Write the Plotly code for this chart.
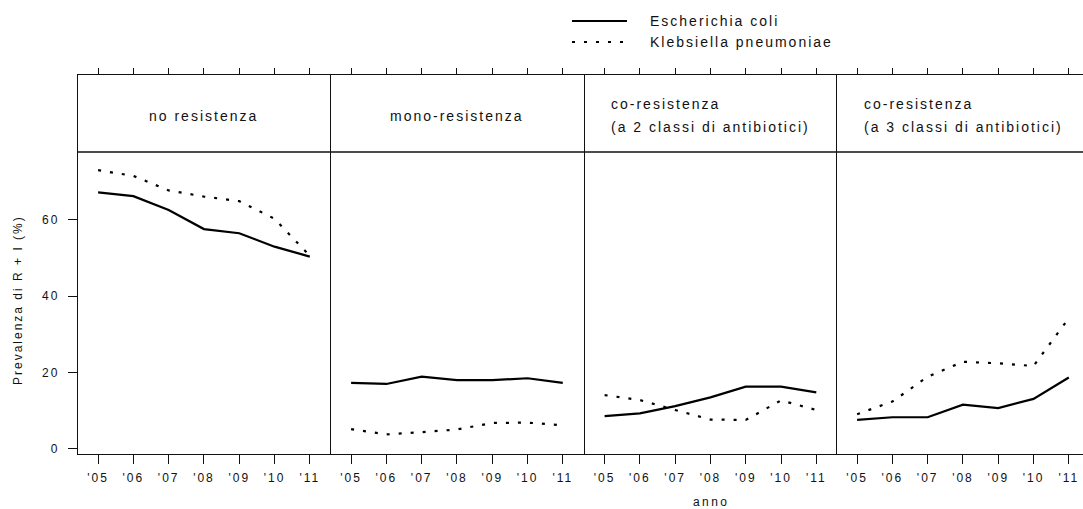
import plotly.graph_objects as go

# ---------------- data ----------------
years = [5, 6, 7, 8, 9, 10, 11]
year_labels = ["'05", "'06", "'07", "'08", "'09", "'10", "'11"]
y_ticks = [0, 20, 40, 60]

series_names = ["Escherichia coli", "Klebsiella pneumoniae"]

ecoli_no_res = [67.1, 66.1, 62.5, 57.5, 56.4, 52.9, 50.3]
kleb_no_res = [72.9, 71.4, 67.6, 66.0, 64.8, 60.2, 50.5]

ecoli_mono = [17.3, 17.0, 18.9, 18.0, 18.0, 18.5, 17.3]
kleb_mono = [5.2, 3.8, 4.4, 5.1, 6.8, 6.9, 6.2]

ecoli_co2 = [8.6, 9.3, 11.2, 13.5, 16.3, 16.3, 14.8]
kleb_co2 = [14.1, 12.8, 10.2, 7.7, 7.6, 12.7, 10.2]

ecoli_co3 = [7.6, 8.3, 8.3, 11.6, 10.7, 13.1, 18.7]
kleb_co3 = [9.1, 12.4, 18.9, 22.8, 22.4, 21.7, 34.2]

panel_titles = [
    ["no resistenza"],
    ["mono-resistenza"],
    ["co-resistenza", "(a 2 classi di antibiotici)"],
    ["co-resistenza", "(a 3 classi di antibiotici)"],
]
ecoli_all = [ecoli_no_res, ecoli_mono, ecoli_co2, ecoli_co3]
kleb_all = [kleb_no_res, kleb_mono, kleb_co2, kleb_co3]

# ---------------- layout geometry (pixels) ----------------
W, H = 1083, 509
L, R, T, B = 78, 0, 75, 55
PW = W - L - R
PH = H - T - B
FONT = "Liberation Sans, Arial, sans-serif"
INK = "#111111"
LW = 1.4


def px_x(px):
    return (px - L) / PW


def px_y(py):
    return (H - B - py) / PH


def sp(text, ls):
    return f'<span style="letter-spacing:{ls}px">{text}</span>'


panel_edges = [78, 331, 584.5, 837, 1083]
per_year = 35.28
x0 = 4.43
y_range = [-1.31, 97.78]
strip_y = px_y(152)

fig = go.Figure()

for i in range(4):
    xa = "x" if i == 0 else f"x{i+1}"
    ya = "y" if i == 0 else f"y{i+1}"
    fig.add_trace(go.Scatter(
        x=years, y=ecoli_all[i], mode="lines", xaxis=xa, yaxis=ya,
        line=dict(color="black", width=2.2), name=series_names[0],
        showlegend=False, hoverinfo="skip"))
    fig.add_trace(go.Scatter(
        x=years, y=kleb_all[i], mode="lines", xaxis=xa, yaxis=ya,
        line=dict(color="black", width=2.2, dash="3px,9px"), name=series_names[1],
        showlegend=False, hoverinfo="skip"))
    # empty trace registering the top-tick axis
    fig.add_trace(go.Scatter(x=[], y=[], xaxis=f"x{i+5}", yaxis=ya,
                             showlegend=False, hoverinfo="skip"))

layout = dict(
    width=W, height=H,
    margin=dict(l=L, r=R, t=T, b=B, autoexpand=False),
    paper_bgcolor="white", plot_bgcolor="white",
    font=dict(family=FONT, size=12, color=INK),
    showlegend=False,
)

for i in range(4):
    left, right = panel_edges[i], panel_edges[i + 1]
    xr = [x0, x0 + (right - left) / per_year]
    dom = [px_x(left), min(1.0, px_x(right))]
    xk = "xaxis" if i == 0 else f"xaxis{i+1}"
    yk = "yaxis" if i == 0 else f"yaxis{i+1}"
    ya = "y" if i == 0 else f"y{i+1}"
    xa = "x" if i == 0 else f"x{i+1}"
    layout[xk] = dict(
        domain=dom, range=xr, anchor=ya,
        tickmode="array", tickvals=years,
        ticktext=[sp(t, 2) for t in year_labels],
        ticks="outside", ticklen=9, tickwidth=LW, tickcolor=INK,
        ticklabelstandoff=3,
        showline=True, linecolor=INK, linewidth=LW, mirror=True,
        showgrid=False, zeroline=False,
        tickfont=dict(family=FONT, size=12, color=INK),
    )
    layout[f"xaxis{i+5}"] = dict(
        domain=dom, range=xr, anchor=ya, overlaying=xa, side="top",
        tickmode="array", tickvals=years,
        ticks="outside", ticklen=6, tickwidth=LW, tickcolor=INK,
        showticklabels=False, showline=False,
        showgrid=False, zeroline=False,
    )
    yd = dict(
        domain=[0, 1], range=y_range, anchor=xa,
        showline=True, linecolor=INK, linewidth=LW, mirror=False,
        showgrid=False, zeroline=False,
    )
    if i == 0:
        yd.update(tickmode="array", tickvals=y_ticks,
                  ticktext=[sp(str(v), 2) for v in y_ticks],
                  ticks="outside", ticklen=9, tickwidth=LW, tickcolor=INK,
                  ticklabelstandoff=6,
                  tickfont=dict(family=FONT, size=12, color=INK))
    else:
        yd.update(showticklabels=False, ticks="")
    layout[yk] = yd

fig.update_layout(**layout)

# strip separator line
fig.add_shape(type="line", xref="paper", yref="paper", x0=0, x1=1,
              y0=strip_y, y1=strip_y, line=dict(color=INK, width=LW))

# strip titles
for i, lines in enumerate(panel_titles):
    xa = "x" if i == 0 else f"x{i+1}"
    if len(lines) == 1:
        fig.add_annotation(x=8, xref=xa, y=px_y(116), yref="paper",
                           text=sp(lines[0], 2), showarrow=False,
                           xanchor="center", yanchor="middle",
                           font=dict(family=FONT, size=14, color=INK))
    else:
        for j, (t, py) in enumerate(zip(lines, [104, 127])):
            fig.add_annotation(x=5.13, xref=xa, y=px_y(py), yref="paper",
                               text=sp(t, 2), showarrow=False,
                               xanchor="left", yanchor="middle",
                               font=dict(family=FONT, size=14, color=INK))

# axis titles
fig.add_annotation(x=px_x(711), xref="paper", y=px_y(502), yref="paper",
                   text=sp("anno", 2.4), showarrow=False,
                   xanchor="center", yanchor="middle",
                   font=dict(family=FONT, size=12, color=INK))
fig.add_annotation(x=px_x(18), xref="paper", y=px_y(300), yref="paper",
                   text=sp("Prevalenza di R + I (%)", 2), showarrow=False,
                   textangle=-90, xanchor="center", yanchor="middle",
                   font=dict(family=FONT, size=12, color=INK))

# key (legend)
for name, dash, py in [(series_names[0], "solid", 21), (series_names[1], "3px,9px", 42)]:
    fig.add_shape(type="line", xref="paper", yref="paper",
                  x0=px_x(572), x1=px_x(627), y0=px_y(py), y1=px_y(py),
                  line=dict(color="black", width=2.2, dash=dash))
    fig.add_annotation(x=px_x(648), xref="paper", y=px_y(py), yref="paper",
                       text=sp(name, 2), showarrow=False,
                       xanchor="left", yanchor="middle",
                       font=dict(family=FONT, size=14, color=INK))

fig.write_html("out.html")
